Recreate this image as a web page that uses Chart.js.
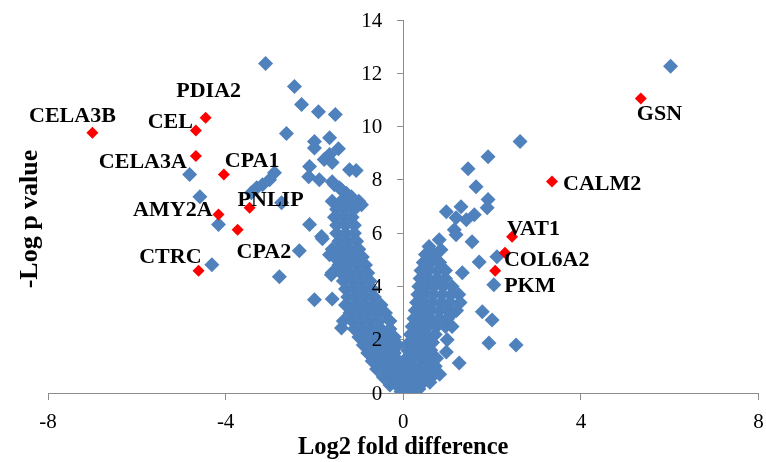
<!DOCTYPE html>
<html>
<head>
<meta charset="utf-8">
<script src="https://cdn.jsdelivr.net/npm/chart.js@4/dist/chart.umd.min.js"></script>
<style>
  html, body { margin: 0; padding: 0; background: #fff; }
  #wrap { width: 766px; height: 462px; }
</style>
</head>
<body>
<div id="wrap"><canvas id="volcano" width="766" height="462"></canvas></div>
<script>
// labelled genes (red)
const geneNames = ["CELA3B", "CEL", "PDIA2", "CELA3A", "CPA1", "AMY2A", "PNLIP", "CPA2", "CTRC",
                   "GSN", "CALM2", "VAT1", "COL6A2", "PKM"];
const geneFold = [-7.0, -4.67, -4.45, -4.67, -4.04, -4.16, -3.46, -3.73, -4.61,
                  5.35, 3.35, 2.45, 2.29, 2.07];
const geneLogP = [9.77, 9.85, 10.33, 8.9, 8.2, 6.7, 6.95, 6.13, 4.59,
                  11.05, 7.94, 5.86, 5.26, 4.59];

// all other proteins (blue), [log2 fold, -log p]
const otherPoints = [
    // down-regulated side, scattered ones
    [-3.1, 12.37], [-2.45, 11.5], [-2.29, 10.83], [-1.91, 10.56], [-1.53, 10.45], [-2.63, 9.74],
    [-2.0, 9.44], [-1.66, 9.58], [-2.0, 9.2], [-1.46, 9.17], [-1.66, 8.95], [-1.78, 8.76],
    [-1.6, 8.65], [-2.11, 8.5], [-1.21, 8.38], [-1.06, 8.35], [-2.13, 8.12], [-1.89, 8.0],
    [-1.6, 7.93], [-2.9, 8.27], [-3.01, 8.0], [-3.17, 7.82], [-3.3, 7.7], [-3.42, 7.52],
    [-2.74, 7.14], [-1.44, 7.7], [-1.28, 7.5], [-1.15, 7.26], [-1.55, 7.82], [-1.39, 7.63],
    [-1.17, 7.37], [-0.94, 7.07], [-2.11, 6.32], [-1.84, 5.87], [-4.81, 8.2], [-4.58, 7.37],
    [-4.16, 6.32], [-4.31, 4.81], [-2.79, 4.36], [-2.34, 5.34], [-1.82, 5.79], [-2.0, 3.5],
    [-1.6, 3.53], [-1.6, 4.51], [-1.66, 5.19], [-1.62, 4.44], [-1.39, 2.44],
    // down-regulated side, dense arm
    [-1.6, 7.2], [-1.4, 7.2], [-1.2, 7.2], [-1.0, 7.2],
    [-1.5, 6.9], [-1.3, 6.9], [-1.1, 6.9],
    [-1.55, 6.6], [-1.35, 6.6], [-1.15, 6.6],
    [-1.5, 6.3], [-1.3, 6.3], [-1.1, 6.3],
    [-1.5, 6.0], [-1.3, 6.0], [-1.1, 6.0],
    [-1.45, 5.7], [-1.25, 5.7], [-1.05, 5.7],
    [-1.6, 5.4], [-1.4, 5.4], [-1.2, 5.4], [-1.0, 5.4],
    [-1.55, 5.1], [-1.35, 5.1], [-1.15, 5.1], [-0.92, 5.1],
    [-1.45, 4.8], [-1.25, 4.8], [-1.05, 4.8], [-0.85, 4.8],
    [-1.4, 4.5], [-1.2, 4.5], [-1.0, 4.5], [-0.8, 4.5],
    [-1.35, 4.2], [-1.15, 4.2], [-0.95, 4.2], [-0.75, 4.2],
    [-1.3, 3.9], [-1.1, 3.9], [-0.9, 3.9], [-0.7, 3.9],
    [-1.25, 3.6], [-1.05, 3.6], [-0.85, 3.6], [-0.65, 3.6],
    [-1.3, 3.3], [-1.1, 3.3], [-0.9, 3.3], [-0.7, 3.3], [-0.5, 3.3],
    [-1.2, 3.0], [-1.0, 3.0], [-0.8, 3.0], [-0.6, 3.0], [-0.4, 3.0],
    [-1.35, 2.7], [-1.15, 2.7], [-0.95, 2.7], [-0.75, 2.7], [-0.55, 2.7], [-0.3, 2.7],
    [-1.1, 2.4], [-0.9, 2.4], [-0.7, 2.4], [-0.5, 2.4], [-0.3, 2.4],
    [-1.0, 2.1], [-0.8, 2.1], [-0.6, 2.1], [-0.4, 2.1], [-0.2, 2.1],
    [-0.9, 1.8], [-0.7, 1.8], [-0.5, 1.8], [-0.3, 1.8], [-0.12, 1.8],
    [-0.8, 1.5], [-0.6, 1.5], [-0.4, 1.5], [-0.2, 1.5],
    [-0.7, 1.2], [-0.5, 1.2], [-0.3, 1.2], [-0.1, 1.2],
    [-0.6, 0.9], [-0.42, 0.9], [-0.25, 0.9], [-0.08, 0.9], [0.08, 0.9],
    [-0.45, 0.6], [-0.3, 0.6], [-0.15, 0.6], [0.0, 0.6],
    [-0.3, 0.3], [-0.15, 0.3], [0.0, 0.3],
    [-0.05, 0.05], [0.1, 0.05],
    // up-regulated side, scattered ones
    [6.02, 12.26], [2.63, 9.44], [1.91, 8.87], [1.46, 8.42], [1.64, 7.74], [1.91, 7.26],
    [1.89, 6.95], [0.97, 6.8], [1.3, 6.99], [1.6, 6.69], [1.19, 6.58], [1.42, 6.5],
    [1.15, 6.13], [1.19, 5.94], [1.55, 5.68], [0.81, 5.75], [0.85, 5.38], [1.71, 4.92],
    [1.33, 4.51], [2.11, 5.11], [2.04, 4.06], [1.78, 3.05], [2.0, 2.74], [1.93, 1.88],
    [2.54, 1.8], [1.26, 1.13], [0.97, 1.54], [0.99, 2.0], [1.03, 2.86],
    // up-regulated side, dense arm
    [0.58, 5.5],
    [0.5, 5.2], [0.7, 5.2],
    [0.45, 4.9], [0.62, 4.9], [0.82, 4.9],
    [0.4, 4.6], [0.58, 4.6], [0.78, 4.6], [0.95, 4.6],
    [0.38, 4.3], [0.55, 4.3], [0.75, 4.3], [0.95, 4.3],
    [0.35, 4.0], [0.52, 4.0], [0.7, 4.0], [0.9, 4.0], [1.1, 4.0],
    [0.33, 3.7], [0.5, 3.7], [0.68, 3.7], [0.88, 3.7], [1.08, 3.7], [1.25, 3.7],
    [0.3, 3.4], [0.48, 3.4], [0.66, 3.4], [0.85, 3.4], [1.05, 3.4], [1.28, 3.4],
    [0.27, 3.1], [0.45, 3.1], [0.63, 3.1], [0.82, 3.1], [1.0, 3.1], [1.2, 3.1],
    [0.24, 2.8], [0.42, 2.8], [0.6, 2.8], [0.8, 2.8], [1.0, 2.8],
    [0.2, 2.5], [0.38, 2.5], [0.56, 2.5], [0.75, 2.5], [0.95, 2.5], [1.1, 2.5],
    [0.16, 2.2], [0.34, 2.2], [0.52, 2.2], [0.72, 2.2],
    [0.13, 1.9], [0.3, 1.9], [0.48, 1.9], [0.66, 1.9],
    [0.1, 1.6], [0.27, 1.6], [0.45, 1.6], [0.62, 1.6],
    [0.07, 1.3], [0.23, 1.3], [0.42, 1.3], [0.6, 1.3], [0.75, 1.3],
    [0.05, 1.0], [0.2, 1.0], [0.38, 1.0], [0.55, 1.0], [0.72, 1.0],
    [0.03, 0.7], [0.18, 0.7], [0.35, 0.7], [0.52, 0.7], [0.7, 0.7], [0.82, 0.7],
    [0.02, 0.4], [0.15, 0.4], [0.3, 0.4], [0.45, 0.4], [0.6, 0.4],
    [0.05, 0.15], [0.2, 0.15], [0.35, 0.15]
];

const xTicks = [-8, -4, 0, 4, 8];
const yTicks = [0, 2, 4, 6, 8, 10, 12, 14];

// where each gene name sits relative to its point: [dx, dy, align]
const labelPlace = {
    CELA3B: [-20, -16, "center"], CEL: [-3, -8, "right"], PDIA2: [3, -26, "center"],
    CELA3A: [-9, 6, "right"], CPA1: [1, -13, "left"], AMY2A: [-6, -4, "right"],
    PNLIP: [-12, -8, "left"], CPA2: [-1, 23, "left"], CTRC: [3, -13, "right"],
    GSN: [-4, 16, "left"], CALM2: [11, 3, "left"], VAT1: [-5, -8, "left"],
    COL6A2: [-1, 7, "left"], PKM: [9, 16, "left"]
};

const serif = '"Liberation Serif", "Times New Roman", serif';
const axisGrey = "#8c8c8c";

// y axis sits at x = 0, so its numbers (drawn over the markers) and title are written here
const yAxisText = {
    id: "yAxisText",
    afterDatasetsDraw(chart) {
        const { ctx, scales: { x, y } } = chart;
        const x0 = x.getPixelForValue(0);
        ctx.save();
        ctx.fillStyle = "#000";
        ctx.font = "21px " + serif;
        ctx.textAlign = "right";
        ctx.textBaseline = "middle";
        yTicks.forEach(v => ctx.fillText(String(v), x0 - 21, y.getPixelForValue(v) + 1));

        ctx.font = "bold 26px " + serif;
        ctx.textAlign = "center";
        ctx.translate(30, 219);
        ctx.rotate(-Math.PI / 2);
        ctx.fillText("-Log p value", 0, 0);
        ctx.restore();
    }
};

const geneLabels = {
    id: "geneLabels",
    afterDatasetsDraw(chart) {
        const { ctx, scales: { x, y } } = chart;
        ctx.save();
        ctx.font = "bold 22px " + serif;
        ctx.fillStyle = "#000";
        ctx.textBaseline = "middle";
        geneNames.forEach((name, i) => {
            const p = labelPlace[name];
            ctx.textAlign = p[2];
            ctx.fillText(name, x.getPixelForValue(geneFold[i]) + p[0], y.getPixelForValue(geneLogP[i]) + p[1]);
        });
        ctx.restore();
    }
};

new Chart(document.getElementById("volcano"), {
    type: "scatter",
    data: {
        datasets: [
            {
                label: "Labelled",
                data: geneNames.map((n, i) => ({ x: geneFold[i], y: geneLogP[i] })),
                pointStyle: "rectRot",
                pointRadius: 6,
                backgroundColor: "#ff0000",
                borderWidth: 0,
                xAxisID: "x",
                yAxisID: "y"
            },
            {
                label: "Other",
                data: otherPoints.map(p => ({ x: p[0], y: p[1] })),
                pointStyle: "rectRot",
                pointRadius: 7.5,
                backgroundColor: "#4f81bd",
                borderWidth: 0,
                xAxisID: "x",
                yAxisID: "y"
            }
        ]
    },
    options: {
        responsive: false,
        animation: false,
        devicePixelRatio: 1,
        layout: { padding: { top: 20, right: 6, left: 48, bottom: 0 } },
        plugins: { legend: { display: false }, tooltip: { enabled: false } },
        scales: {
            x: {
                type: "linear",
                position: "bottom",
                min: -8,
                max: 8,
                afterBuildTicks: s => { s.ticks = xTicks.map(v => ({ value: v })); },
                afterFit: s => {
                    s.height = 69;
                    s.paddingLeft = 0;
                    s.paddingRight = 0;
                },
                ticks: { color: "#000", font: { family: serif, size: 21 }, padding: 10 },
                grid: { drawOnChartArea: false, color: axisGrey, tickLength: 7 },
                border: { color: axisGrey, width: 1 },
                title: {
                    display: true,
                    text: "Log2 fold difference",
                    color: "#000",
                    font: { family: serif, size: 24.5, weight: "bold" },
                    padding: { top: 0, bottom: 0 }
                }
            },
            y: {
                type: "linear",
                position: { x: 0 },
                min: 0,
                max: 14,
                afterBuildTicks: s => { s.ticks = yTicks.map(v => ({ value: v })); },
                ticks: { display: false },
                grid: { drawOnChartArea: false, color: axisGrey, tickLength: 6 },
                border: { color: axisGrey, width: 1 }
            }
        }
    },
    plugins: [yAxisText, geneLabels]
});
</script>
</body>
</html>
